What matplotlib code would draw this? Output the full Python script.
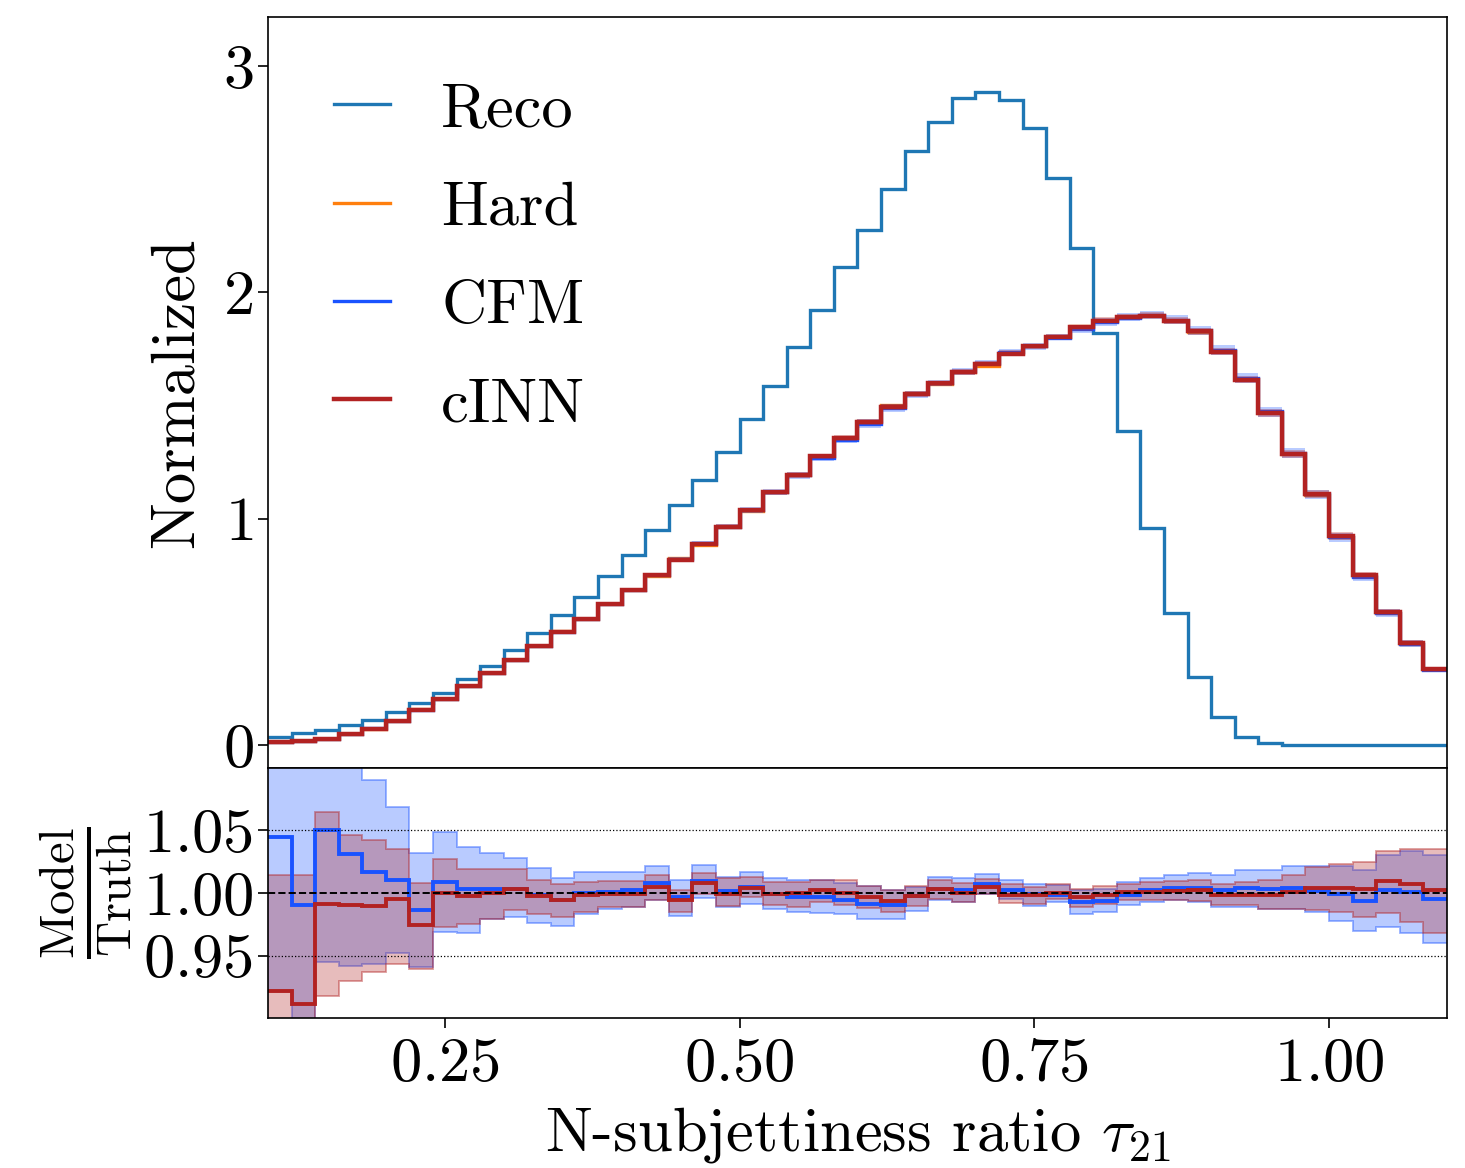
import numpy as np
import matplotlib
matplotlib.use("Agg")
import matplotlib.pyplot as plt

plt.rcParams["font.family"] = ["cmr10", "DejaVu Serif"]
plt.rcParams["mathtext.fontset"] = "cm"
plt.rcParams["axes.formatter.use_mathtext"] = True
plt.rcParams["axes.unicode_minus"] = False

# Binning of tau_21
bin_edges = np.linspace(0.10, 1.10, 51)

# Normalized histograms
reco = [0.037, 0.051, 0.066, 0.090, 0.110, 0.144, 0.184, 0.228, 0.293, 0.348,
        0.419, 0.493, 0.576, 0.652, 0.745, 0.838, 0.948, 1.059, 1.173, 1.294,
        1.441, 1.588, 1.757, 1.921, 2.114, 2.275, 2.455, 2.625, 2.754, 2.857,
        2.886, 2.848, 2.727, 2.504, 2.194, 1.819, 1.389, 0.959, 0.585, 0.301,
        0.125, 0.037, 0.007, 0.002, 0.001, 0.0, 0.0, 0.0, 0.0, 0.0]

hard = [0.013, 0.017, 0.025, 0.047, 0.072, 0.107, 0.158, 0.203, 0.261, 0.316,
        0.374, 0.438, 0.503, 0.556, 0.623, 0.684, 0.746, 0.824, 0.883, 0.963,
        1.033, 1.117, 1.195, 1.273, 1.356, 1.431, 1.502, 1.555, 1.594, 1.647,
        1.676, 1.731, 1.765, 1.804, 1.851, 1.879, 1.890, 1.896, 1.872, 1.824,
        1.741, 1.616, 1.469, 1.286, 1.105, 0.918, 0.747, 0.583, 0.448, 0.334]

# Model / Truth ratios with their uncertainty envelopes
cfm_ratio = [1.045, 0.990, 1.050, 1.031, 1.017, 1.010, 0.986, 1.009, 1.003, 1.0035,
             1.0035, 0.998, 0.994, 1.000, 1.001, 1.002, 1.008, 0.997, 1.0096, 1.0013,
             1.0048, 0.9995, 0.9968, 0.9968, 0.9947, 0.9915, 0.990, 0.9973, 1.0035, 1.0027,
             1.0069, 1.0027, 0.9995, 0.998, 0.9928, 0.9936, 0.9987, 1.002, 1.004, 1.0043,
             1.0027, 1.0043, 1.0035, 1.0043, 1.0016, 0.999, 0.9936, 1.002, 1.0008, 0.9955]
cfm_low = [0.922, 0.870, 0.945, 0.942, 0.9435, 0.952, 0.941, 0.969, 0.968, 0.979,
           0.981, 0.976, 0.974, 0.9835, 0.9875, 0.9888, 0.994, 0.982, 0.9963, 0.9888,
           0.9915, 0.987, 0.985, 0.9843, 0.983, 0.979, 0.9795, 0.9853, 0.994, 0.9928,
           0.999, 0.9955, 0.9896, 0.993, 0.9835, 0.9848, 0.9907, 0.9928, 0.994, 0.9928,
           0.9888, 0.9888, 0.9875, 0.9875, 0.9848, 0.978, 0.9693, 0.9728, 0.968, 0.960]
cfm_high = [1.13, 1.13, 1.13, 1.12, 1.090, 1.069, 1.032, 1.049, 1.037, 1.032,
            1.028, 1.020, 1.0123, 1.0168, 1.0168, 1.0168, 1.0213, 1.010, 1.0227, 1.0128,
            1.0168, 1.012, 1.010, 1.010, 1.0083, 1.0056, 1.002, 1.0048, 1.0128, 1.012,
            1.0155, 1.0107, 1.0069, 1.006, 1.002, 1.0035, 1.0088, 1.0123, 1.0141, 1.016,
            1.0147, 1.0181, 1.0181, 1.0213, 1.0213, 1.0213, 1.0187, 1.030, 1.0336, 1.030]

cinn_ratio = [0.922, 0.911, 0.9915, 0.990, 0.9896, 0.995, 0.9747, 1.000, 0.9976, 1.000,
              1.0035, 0.9973, 0.9941, 0.998, 0.999, 0.9995, 1.0048, 0.9941, 1.008, 0.9995,
              1.0043, 0.9995, 1.000, 1.002, 1.000, 0.9968, 0.9933, 0.9973, 1.0035, 1.000,
              1.0048, 0.998, 0.998, 1.000, 0.9968, 0.998, 1.0008, 1.0008, 1.0016, 1.0021,
              0.998, 0.9987, 0.998, 1.0008, 1.0043, 1.0043, 1.0035, 1.0093, 1.0069, 1.0021]
cinn_low = [0.870, 0.870, 0.918, 0.930, 0.937, 0.9435, 0.9395, 0.9728, 0.9755, 0.9795,
            0.986, 0.9835, 0.981, 0.985, 0.9888, 0.9888, 0.994, 0.985, 0.9995, 0.9896,
            0.9968, 0.990, 0.9888, 0.9928, 0.9907, 0.988, 0.985, 0.9893, 0.9955, 0.9928,
            0.999, 0.992, 0.9915, 0.9955, 0.9888, 0.9915, 0.994, 0.994, 0.994, 0.9936,
            0.990, 0.990, 0.9875, 0.9875, 0.986, 0.9848, 0.9808, 0.9843, 0.9768, 0.968]
cinn_high = [1.014, 1.014, 1.065, 1.046, 1.042, 1.0355, 1.008, 1.027, 1.0195, 1.0195,
             1.0195, 1.0107, 1.0069, 1.0088, 1.0096, 1.0096, 1.014, 1.002, 1.0163, 1.0123,
             1.0128, 1.0088, 1.0088, 1.0107, 1.010, 1.0056, 1.002, 1.0053, 1.010, 1.008,
             1.0115, 1.0075, 1.0048, 1.0075, 1.0035, 1.0053, 1.0075, 1.0088, 1.0096, 1.0107,
             1.0075, 1.0088, 1.010, 1.0147, 1.0208, 1.0235, 1.0248, 1.0336, 1.0355, 1.0355]

labels = ["Reco", "Hard", "CFM", "cINN"]
c_reco = "#1f77b4"
c_hard = "#ff7f0e"
c_cfm = "#1a53ff"
c_cinn = "#b22222"

hard_a = np.array(hard)
cfm_hist = hard_a * np.array(cfm_ratio)
cinn_hist = hard_a * np.array(cinn_ratio)

fig = plt.figure(figsize=(14.65, 11.68), dpi=100)
ax = fig.add_axes([0.1829, 0.3425, 0.8048, 0.643])
rax = fig.add_axes([0.1829, 0.1284, 0.8048, 0.2141], sharex=ax)

FS = 45

# Upper panel: distributions (open step outlines, no closing edges)
ax.stairs(reco, bin_edges, baseline=None, color=c_reco, lw=2.4, label=labels[0])
ax.stairs(hard, bin_edges, baseline=None, color=c_hard, lw=2.4, label=labels[1])
ax.stairs(hard_a * np.array(cfm_high), bin_edges, baseline=hard_a * np.array(cfm_low),
          fill=True, color=c_cfm, alpha=0.3, lw=0)
ax.stairs(cfm_hist, bin_edges, baseline=None, color=c_cfm, lw=2.4, label=labels[2])
ax.stairs(hard_a * np.array(cinn_high), bin_edges, baseline=hard_a * np.array(cinn_low),
          fill=True, color=c_cinn, alpha=0.3, lw=0)
ax.stairs(cinn_hist, bin_edges, baseline=None, color=c_cinn, lw=3.2, label=labels[3])

ax.set_ylim(-0.1016, 3.217)
ax.set_yticks([0, 1, 2, 3])
ax.set_ylabel("Normalized", fontsize=FS, labelpad=13)
ax.tick_params(axis="both", labelsize=FS, length=7, width=1.2)
ax.tick_params(axis="x", labelbottom=False)
ax.legend(loc="upper left", frameon=False, fontsize=FS, handlelength=0.9,
          handletextpad=0.82, labelspacing=0.68, borderaxespad=0.65)

# Lower panel: ratios to truth
for lo, hi, col in [(cfm_low, cfm_high, c_cfm), (cinn_low, cinn_high, c_cinn)]:
    rax.stairs(hi, bin_edges, baseline=lo, fill=True, color=col, alpha=0.3, lw=0)
    rax.stairs(hi, bin_edges, baseline=None, color=col, alpha=0.45, lw=1.3)
    rax.stairs(lo, bin_edges, baseline=None, color=col, alpha=0.45, lw=1.3)
rax.stairs(cfm_ratio, bin_edges, baseline=None, color=c_cfm, lw=2.8)
rax.stairs(cinn_ratio, bin_edges, baseline=None, color=c_cinn, lw=2.8)

rax.axhline(1.0, color="black", ls="--", lw=1.4)
rax.axhline(1.05, color="black", ls=":", lw=0.9)
rax.axhline(0.95, color="black", ls=":", lw=0.9)

rax.set_xlim(0.10, 1.10)
rax.set_ylim(0.9, 1.1)
rax.set_yticks([0.95, 1.00, 1.05])
rax.set_xticks([0.25, 0.50, 0.75, 1.00])
rax.set_ylabel(r"$\frac{\mathrm{Model}}{\mathrm{Truth}}$", fontsize=50, labelpad=6)
rax.set_xlabel(r"N-subjettiness ratio $\tau_{21}$", fontsize=FS, labelpad=9)
rax.tick_params(axis="both", labelsize=FS, length=7, width=1.2)
rax.tick_params(axis="x", pad=7)

for a in (ax, rax):
    for s in a.spines.values():
        s.set_linewidth(1.2)

fig.savefig("out.png", dpi=100)
